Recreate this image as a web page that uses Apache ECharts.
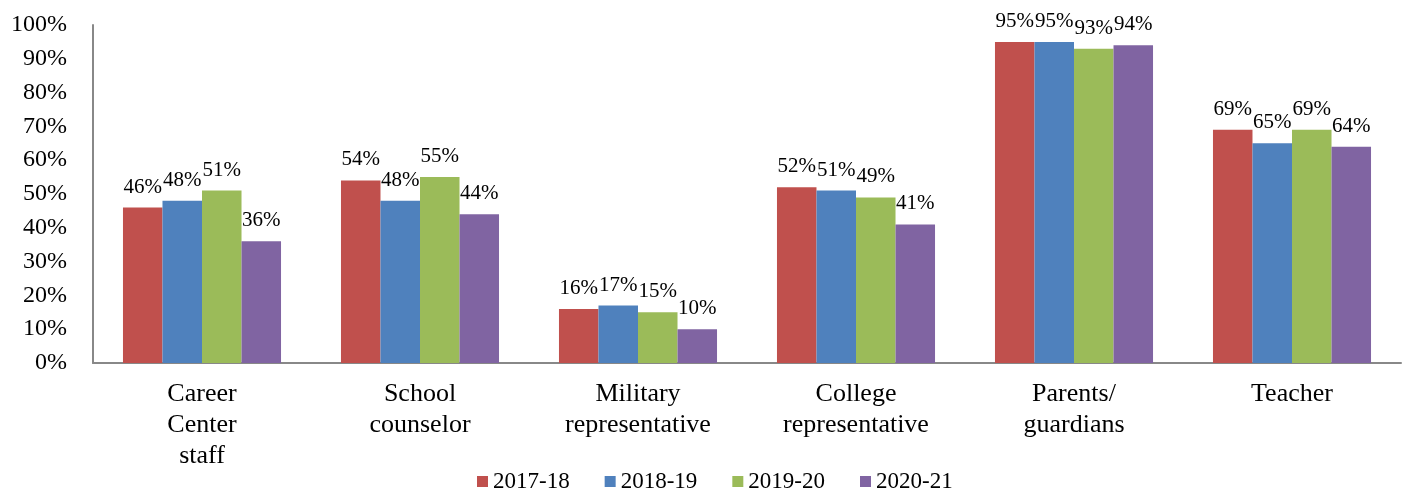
<!DOCTYPE html>
<html>
<head>
<meta charset="utf-8">
<script src="https://cdn.jsdelivr.net/npm/echarts@6/dist/echarts.min.js"></script>
<style>
  html, body { margin: 0; padding: 0; background: #fff; }
  #chart { width: 1405px; height: 492px; }
</style>
</head>
<body>
<div id="chart"></div>
<script>
var categories = ['Career\nCenter\nstaff', 'School\ncounselor', 'Military\nrepresentative',
  'College\nrepresentative', 'Parents/\nguardians', 'Teacher'];
var years = ['2017-18', '2018-19', '2019-20', '2020-21'];
var v2017 = [46, 54, 16, 52, 95, 69];
var v2018 = [48, 48, 17, 51, 95, 65];
var v2019 = [51, 55, 15, 49, 93, 69];
var v2020 = [36, 44, 10, 41, 94, 64];
var colors = ['#C0504D', '#4F81BD', '#9BBB59', '#8064A2'];

var font = '"Liberation Serif", "Times New Roman", serif';
var chart = echarts.init(document.getElementById('chart'));

function bar(name, data, color) {
  return {
    name: name,
    type: 'bar',
    data: data,
    barGap: '0%',
    barCategoryGap: '27.5%',
    itemStyle: { color: color },
    label: {
      show: true,
      position: 'top',
      distance: 10,
      formatter: '{c}%',
      fontFamily: font,
      fontSize: 21,
      color: '#000'
    }
  };
}

chart.setOption({
  animation: false,
  color: colors,
  textStyle: { fontFamily: font },
  grid: { left: 93, right: 4, top: 25, bottom: 129 },
  legend: {
    data: years,
    left: 472,
    top: 465,
    itemWidth: 11,
    itemHeight: 11,
    itemGap: 35,
    icon: 'rect',
    textStyle: { fontFamily: font, fontSize: 23, color: '#000' }
  },
  xAxis: {
    type: 'category',
    data: categories,
    axisTick: { show: false },
    axisLine: { lineStyle: { color: '#888', width: 2 } },
    axisLabel: {
      interval: 0,
      margin: 16,
      fontFamily: font,
      fontSize: 26,
      lineHeight: 31,
      color: '#000'
    }
  },
  yAxis: {
    type: 'value',
    min: 0,
    max: 100,
    interval: 10,
    splitLine: { show: false },
    axisTick: { show: false },
    axisLine: { show: true, lineStyle: { color: '#888', width: 2 } },
    axisLabel: {
      formatter: '{value}%',
      margin: 26,
      fontFamily: font,
      fontSize: 24,
      color: '#000'
    }
  },
  series: [
    bar(years[0], v2017, colors[0]),
    bar(years[1], v2018, colors[1]),
    bar(years[2], v2019, colors[2]),
    bar(years[3], v2020, colors[3])
  ]
});
</script>
</body>
</html>
